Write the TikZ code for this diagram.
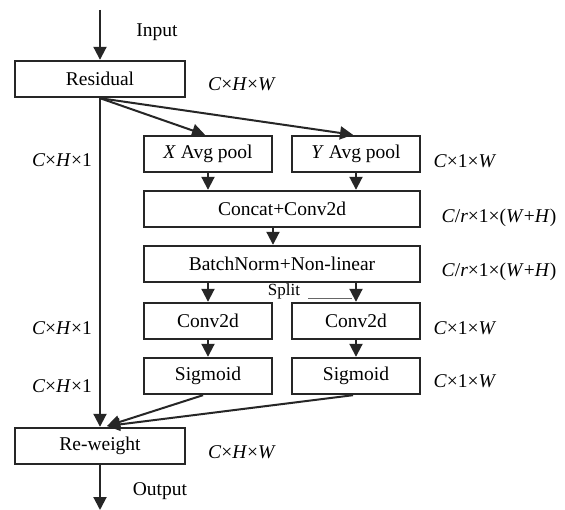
\documentclass[tikz,border=0pt]{standalone}
\usepackage{fontspec}
\setmainfont{Liberation Serif}
\usetikzlibrary{arrows.meta,calc}
\begin{document}
\begin{tikzpicture}[x=1pt,y=-1pt,
  font=\fontsize{19.5}{22}\selectfont,
  box/.style={draw=black!85, line width=2.4pt, rectangle, minimum height=36pt, inner sep=0pt},
  wide/.style={box, minimum width=170pt},
  half/.style={box, minimum width=128pt},
  full/.style={box, minimum width=276pt},
  arr/.style={draw=black!85, line width=2pt, -{Triangle[length=13pt,width=13pt]}},
  lab/.style={inner sep=0pt}]
\useasboundingbox (0,0) rectangle (565,510);
\fill[white] (0,0) rectangle (565,510);
% boxes
\node[wide] (res) at (100,79) {\raisebox{-2pt}{Residual}};
\node[half] (xp) at (208,154) {\raisebox{-2pt}{\textit{X} Avg pool}};
\node[half] (yp) at (356,154) {\raisebox{-2pt}{\textit{Y} Avg pool}};
\node[full] (cc) at (282,209) {Concat+Conv2d};
\node[full] (bn) at (282,264) {\raisebox{-3pt}{BatchNorm+Non-linear}};
\node[half] (cl) at (208,321) {Conv2d};
\node[half] (cr) at (356,321) {Conv2d};
\node[half] (sl) at (208,376) {Sigmoid};
\node[half] (sr) at (356,376) {Sigmoid};
\node[wide] (rw) at (100,446) {Re-weight};
% free ends
\coordinate (in) at (100,10);
\coordinate (out) at (100,510);
\coordinate (tip) at (107,426);
% connectors
\draw[arr] (in) -- (res.north);
\draw[arr] (res.south) -- (rw.north);
\draw[arr] (res.south) -- ($(xp.north)+(-3,0)$);
\draw[arr] (res.south) -- ($(yp.north)+(-3,0)$);
\draw[arr] (xp.south) -- (xp.south |- cc.north);
\draw[arr] (yp.south) -- (yp.south |- cc.north);
\draw[arr] ($(cc.south)+(-9,0)$) -- ($(bn.north)+(-9,0)$);
\draw[arr] (cl.north |- bn.south) -- (cl.north);
\draw[arr] (cr.north |- bn.south) -- (cr.north);
\draw[arr] (cl.south) -- (sl.north);
\draw[arr] (cr.south) -- (sr.north);
\draw[arr] ($(sl.south)+(-5,0)$) -- (tip);
\draw[arr] ($(sr.south)+(-3,0)$) -- (tip);
\draw[arr] (rw.south) -- (out);
% split mark
\node[lab] (split) at (284,291) {\fontsize{17}{18}\selectfont Split};
\coordinate (splitend) at (352,298);
\draw[black!60, line width=0.8pt] ($(split.east)+(8,7)$) -- (splitend);
% labels
\node[lab] (lin) at (157,32) {Input};
\node[lab] (lout) at (160,491) {Output};
\node[lab] (l1) at (242,84) {\textit{C}×\textit{H}×\textit{W}};
\node[lab] (l2) at (242,452) {\textit{C}×\textit{H}×\textit{W}};
\node[lab] (l3) at (62,160) {\textit{C}×\textit{H}×1};
\node[lab] (l4) at (62,328) {\textit{C}×\textit{H}×1};
\node[lab] (l5) at (62,386) {\textit{C}×\textit{H}×1};
\node[lab] (l6) at (465,161) {\textit{C}×1×\textit{W}};
\node[lab] (l7) at (465,328) {\textit{C}×1×\textit{W}};
\node[lab] (l8) at (465,381) {\textit{C}×1×\textit{W}};
\node[lab] (l9) at (499,218) {\textit{C}/\textit{r}×1×(\textit{W}+\textit{H})};
\node[lab] (l10) at (499,272) {\textit{C}/\textit{r}×1×(\textit{W}+\textit{H})};
\end{tikzpicture}
\end{document}
